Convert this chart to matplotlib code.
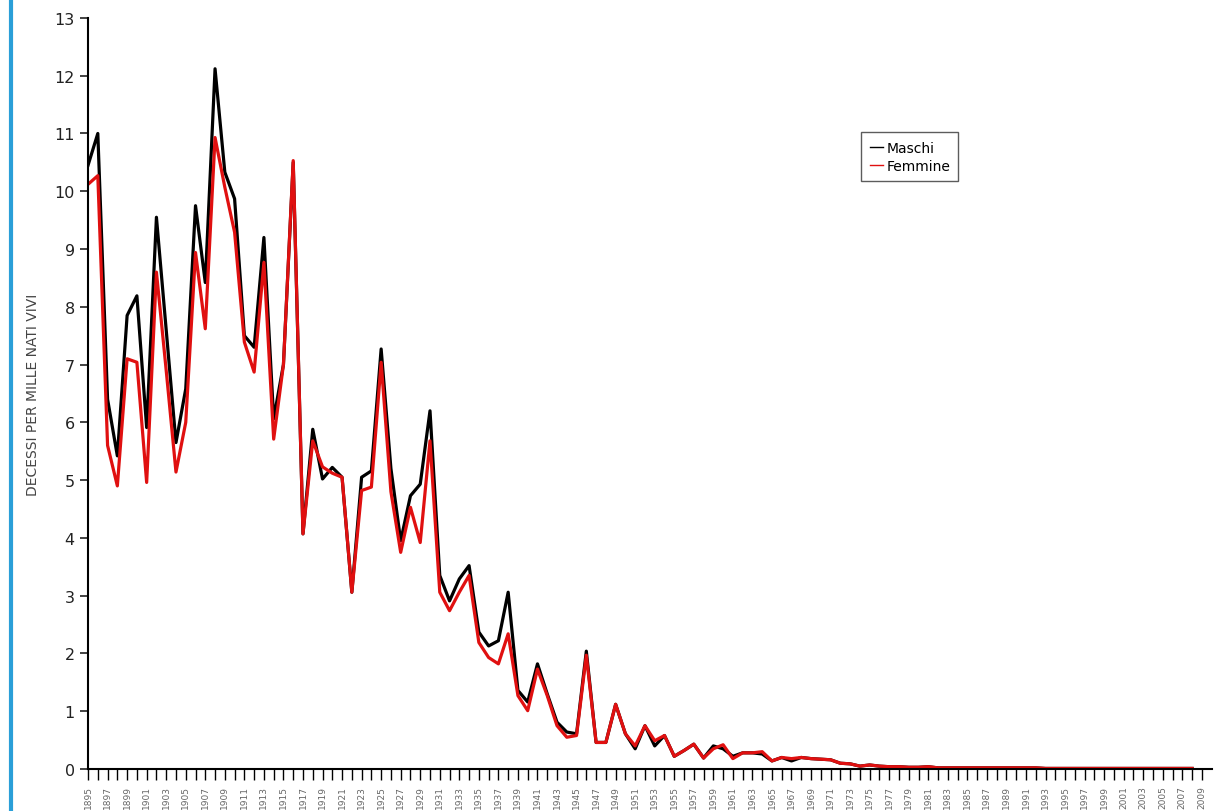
import numpy as np
import matplotlib
matplotlib.use("Agg")
import matplotlib.pyplot as plt
from matplotlib.lines import Line2D

years = list(range(1895, 2009))

maschi = [
    10.45, 11.0, 6.4, 5.42, 7.85, 8.19, 5.91, 9.55, 7.6, 5.65,   # 1895-1904
    6.58, 9.75, 8.42, 12.12, 10.33, 9.87, 7.5, 7.3, 9.2, 6.06,   # 1905-1914
    7.0, 10.5, 4.07, 5.88, 5.02, 5.22, 5.05, 3.06, 5.05, 5.16,   # 1915-1924
    7.27, 5.2, 3.95, 4.73, 4.93, 6.2, 3.35, 2.91, 3.29, 3.52,    # 1925-1934
    2.37, 2.13, 2.22, 3.06, 1.36, 1.16, 1.82, 1.3, 0.81, 0.64,   # 1935-1944
    0.61, 2.04, 0.46, 0.46, 1.12, 0.61, 0.35, 0.75, 0.40, 0.58,  # 1945-1954
    0.22, 0.32, 0.43, 0.19, 0.40, 0.35, 0.22, 0.28, 0.28, 0.26,  # 1955-1964
    0.14, 0.20, 0.14, 0.20, 0.18, 0.17, 0.16, 0.10, 0.09, 0.05,  # 1965-1974
    0.07, 0.05, 0.04, 0.04, 0.03, 0.03, 0.04, 0.02, 0.02, 0.02,  # 1975-1984
    0.02, 0.02, 0.02, 0.02, 0.02, 0.02, 0.02, 0.02, 0.01, 0.01,  # 1985-1994
    0.01, 0.01, 0.01, 0.01, 0.01, 0.01, 0.01, 0.01, 0.01, 0.01,  # 1995-2004
    0.01, 0.01, 0.01, 0.01,                                      # 2005-2008
]

femmine = [
    10.12, 10.27, 5.6, 4.9, 7.10, 7.04, 4.96, 8.6, 6.9, 5.14,    # 1895-1904
    6.0, 8.94, 7.62, 10.93, 10.07, 9.29, 7.39, 6.87, 8.77, 5.71, # 1905-1914
    7.0, 10.53, 4.07, 5.68, 5.23, 5.12, 5.05, 3.06, 4.82, 4.88,  # 1915-1924
    7.04, 4.8, 3.75, 4.53, 3.92, 5.68, 3.06, 2.74, 3.06, 3.35,   # 1925-1934
    2.19, 1.93, 1.82, 2.34, 1.27, 1.01, 1.73, 1.27, 0.75, 0.55,  # 1935-1944
    0.58, 1.97, 0.46, 0.46, 1.12, 0.61, 0.40, 0.75, 0.49, 0.58,  # 1945-1954
    0.22, 0.32, 0.43, 0.19, 0.35, 0.42, 0.18, 0.28, 0.28, 0.30,  # 1955-1964
    0.14, 0.20, 0.18, 0.20, 0.18, 0.17, 0.16, 0.10, 0.09, 0.05,  # 1965-1974
    0.07, 0.05, 0.04, 0.04, 0.03, 0.03, 0.04, 0.02, 0.02, 0.02,  # 1975-1984
    0.02, 0.02, 0.02, 0.02, 0.02, 0.02, 0.02, 0.02, 0.01, 0.01,  # 1985-1994
    0.01, 0.01, 0.01, 0.01, 0.01, 0.01, 0.01, 0.01, 0.01, 0.01,  # 1995-2004
    0.01, 0.01, 0.01, 0.01,                                      # 2005-2008
]

tick_years = list(range(1895, 2010))
label_years = list(range(1895, 2010, 2))

fig = plt.figure(figsize=(12.16, 8.12), dpi=100)
ax = fig.add_axes([0.0724, 0.0517, 0.924, 0.925])

ax.plot(years, maschi, color="black", lw=2.3, label="Maschi")
ax.plot(years, femmine, color="#e01010", lw=2.3, label="Femmine")

ax.set_xlim(1895, 2010)
ax.set_ylim(0, 13)
ax.set_yticks(range(0, 14))
ax.tick_params(axis="y", labelsize=11.5, length=6, width=1.2, colors="#222222")

ax.set_xticks(tick_years)
ax.set_xticklabels([str(y) if y in label_years else "" for y in tick_years],
                   rotation=90, fontsize=6.5, color="#666666")
ax.tick_params(axis="x", length=8, width=1.0)

ax.spines["top"].set_visible(False)
ax.spines["right"].set_visible(False)
ax.spines["left"].set_linewidth(1.5)
ax.spines["bottom"].set_linewidth(1.5)

ax.set_ylabel("DECESSI PER MILLE NATI VIVI", fontsize=10, color="#444444", labelpad=10)

leg = ax.legend(loc="upper left", bbox_to_anchor=(0.682, 0.857), fontsize=10,
                handlelength=1.0, handletextpad=0.2, borderpad=0.6,
                labelspacing=0.3, frameon=True, fancybox=False)
leg.get_frame().set_edgecolor("#333333")
leg.get_frame().set_linewidth(1.0)
for h in leg.get_lines():
    h.set_linewidth(1.0)

# blue border on the left edge of the screenshot
fig.add_artist(Line2D([0.009, 0.009], [0, 1], transform=fig.transFigure,
                      color="#2a9fd8", lw=3))

fig.savefig("out.png", dpi=100)
